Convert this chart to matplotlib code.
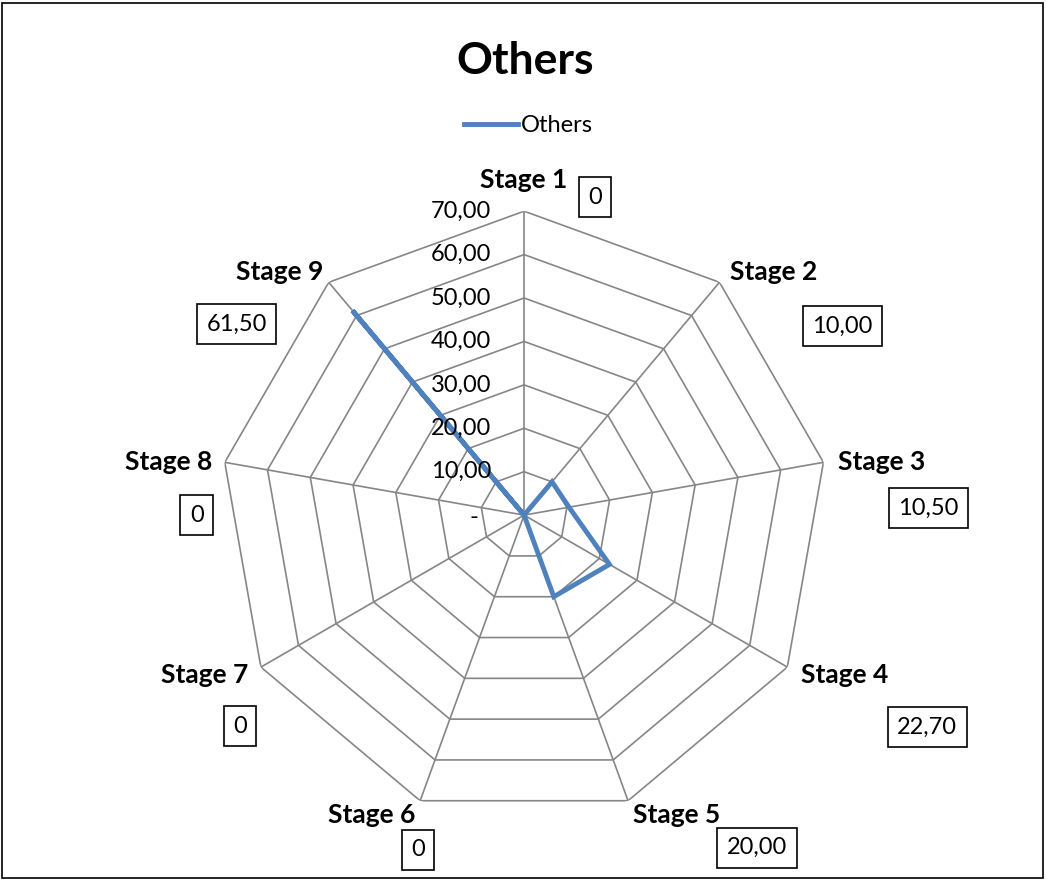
import numpy as np
import matplotlib
matplotlib.use("Agg")
import matplotlib.pyplot as plt
from matplotlib.patches import Rectangle

plt.rcParams['font.family'] = ['Lato', 'DejaVu Sans']

# data
stages = ['Stage 1', 'Stage 2', 'Stage 3', 'Stage 4', 'Stage 5',
          'Stage 6', 'Stage 7', 'Stage 8', 'Stage 9']
values = [0, 10.0, 10.5, 22.7, 20.0, 0, 0, 0, 61.5]
value_labels = ['0', '10,00', '10,50', '22,70', '20,00', '0', '0', '0', '61,50']
rings = [10, 20, 30, 40, 50, 60, 70]
ring_labels = ['10,00', '20,00', '30,00', '40,00', '50,00', '60,00', '70,00']

# label offsets (pixels, from the outer vertex)
name_off = [(0, 31), (54, 10), (58, 0), (57, -8), (49, -14),
            (-48, -14), (-56, -8), (-56, 0), (-49, 10)]
box_off = [(71, 14), (123, -44), (105, -46), (140, -60), (129, -47),
           (-2, -49), (-21, -59), (-28, -53), (-92, -42)]

blue = '#4F81BD'
grid = '#868686'

fig = plt.figure(figsize=(10.46, 8.81), dpi=100)
ax = fig.add_axes([0.2104, 0.0703, 0.5813, 0.690], projection='polar')
ax.set_theta_offset(np.pi / 2)
ax.set_theta_direction(-1)
ax.set_ylim(0, 70)
ax.grid(False)
ax.spines['polar'].set_visible(False)
ax.set_xticks([])
ax.set_yticks([])
ax.patch.set_alpha(0)

n = len(stages)
ang = np.linspace(0, 2 * np.pi, n, endpoint=False)
ang_c = np.append(ang, ang[0])

for r in rings:
    ax.plot(ang_c, [r] * (n + 1), color=grid, lw=1.2, zorder=1)
for a in ang:
    ax.plot([a, a], [0, 70], color=grid, lw=1.2, zorder=1)

vals_c = values + [values[0]]
ax.plot(ang_c, vals_c, color=blue, lw=3.5, label='Others', zorder=3,
        solid_joinstyle='miter')

# axis value labels along the top spoke
ax.annotate('-', xy=(0, 0), xytext=(-46, -2), textcoords='offset pixels',
            ha='right', va='center', fontsize=17, color='black')
for r, t in zip(rings, ring_labels):
    ax.annotate(t, xy=(0, r), xytext=(-33, 0), textcoords='offset pixels',
                ha='right', va='center', fontsize=17, color='black')

for i in range(n):
    ax.annotate(stages[i], xy=(ang[i], 70), xytext=name_off[i],
                textcoords='offset pixels', ha='center', va='center',
                fontsize=19, fontweight='bold', annotation_clip=False)
    ax.annotate(value_labels[i], xy=(ang[i], 70), xytext=box_off[i],
                textcoords='offset pixels', ha='center', va='center',
                fontsize=17, annotation_clip=False,
                bbox=dict(boxstyle='square,pad=0.4', fc='white',
                          ec='black', lw=1.2))

fig.text(0.502, 1 - 61 / 881, 'Others', ha='center', va='center',
         fontsize=32, fontweight='bold')
fig.legend(loc='center', bbox_to_anchor=(0.505, 1 - 126 / 881),
           frameon=False, fontsize=17, handlelength=2.3, handletextpad=0.1)

fig.add_artist(Rectangle((2 / 1046, 3 / 881), 1041 / 1046, 875 / 881,
                         transform=fig.transFigure, fill=False,
                         ec='black', lw=1.2))

fig.savefig('out.png', dpi=100)
